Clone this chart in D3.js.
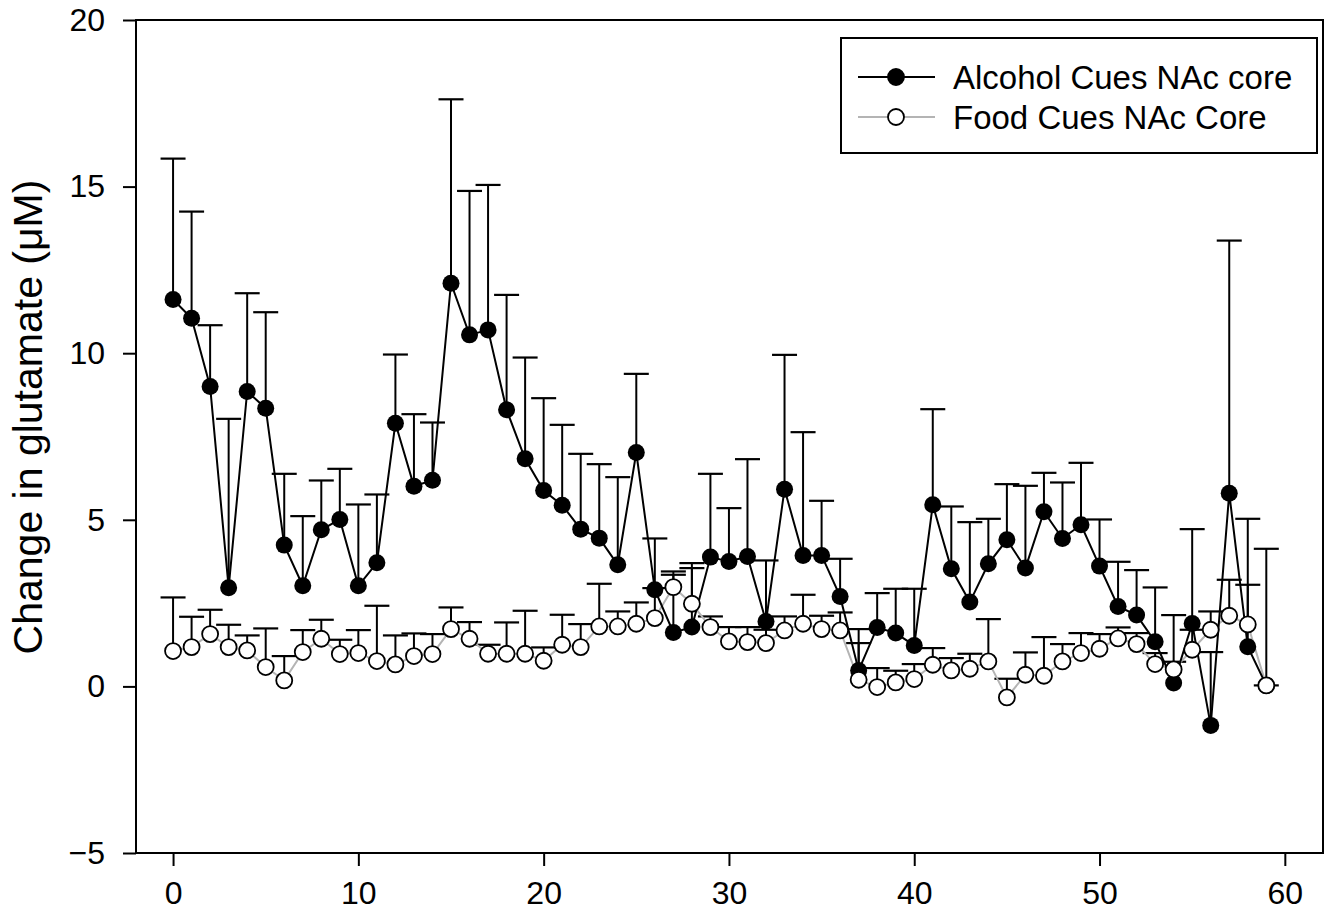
<!DOCTYPE html>
<html>
<head>
<meta charset="utf-8">
<script src="https://cdn.jsdelivr.net/npm/d3@7"></script>
<style>
  body { margin: 0; background: #fff; }
  svg { font-family: "Liberation Sans", Arial, sans-serif; }
</style>
</head>
<body>
<svg id="chart" width="1331" height="920"></svg>
<script>
// sample index (x) and values
var samples = d3.range(0, 60);

var alcoholMean = [11.61, 11.05, 9.00, 2.96, 8.85, 8.35, 4.24, 3.02, 4.70, 5.01,
  3.02, 3.71, 7.90, 6.01, 6.19, 12.10, 10.55, 10.70, 8.30, 6.83,
  5.88, 5.44, 4.72, 4.45, 3.65, 7.02, 2.90, 1.62, 1.78, 3.88,
  3.75, 3.90, 1.95, 5.92, 3.93, 3.93, 2.70, 0.48, 1.77, 1.60,
  1.23, 5.45, 3.53, 2.53, 3.68, 4.40, 3.55, 5.24, 4.44, 4.85,
  3.61, 2.40, 2.14, 1.34, 0.10, 1.89, -1.17, 5.80, 1.19, 0.03];

var alcoholSem = [4.23, 3.20, 1.84, 5.07, 2.95, 2.88, 2.14, 2.09, 1.48, 1.52,
  2.44, 2.05, 2.06, 2.16, 1.73, 5.52, 4.32, 4.35, 3.45, 3.04,
  2.77, 2.41, 2.26, 2.22, 2.63, 2.36, 1.54, 1.83, 1.92, 2.50,
  1.60, 2.92, 1.83, 4.03, 3.70, 1.64, 1.13, 1.24, 1.03, 1.33,
  1.70, 2.87, 1.87, 2.40, 1.35, 1.67, 2.47, 1.17, 1.68, 1.86,
  1.40, 1.34, 1.35, 1.63, 2.04, 2.83, 2.20, 7.58, 3.84, 4.10];

var foodMean = [1.06, 1.18, 1.57, 1.18, 1.08, 0.58, 0.18, 1.03, 1.43, 0.97,
  1.00, 0.76, 0.66, 0.91, 0.97, 1.72, 1.43, 0.98, 0.98, 0.98,
  0.77, 1.25, 1.18, 1.80, 1.80, 1.88, 2.05, 2.98, 2.48, 1.78,
  1.35, 1.33, 1.30, 1.68, 1.88, 1.72, 1.68, 0.20, -0.02, 0.12,
  0.22, 0.65, 0.48, 0.53, 0.75, -0.33, 0.35, 0.32, 0.75, 1.00,
  1.13, 1.44, 1.27, 0.67, 0.51, 1.10, 1.70, 2.12, 1.86, 0.03];

var foodSem = [1.61, 0.91, 0.73, 0.67, 0.45, 1.16, 0.73, 0.66, 0.57, 0.43,
  0.69, 1.66, 0.87, 0.68, 0.60, 0.65, 0.50, 0.27, 0.94, 1.29,
  0.40, 0.90, 0.69, 1.28, 0.45, 0.64, 0.90, 0.37, 1.07, 0.32,
  0.43, 0.45, 0.40, 0.42, 0.87, 0.40, 0.54, 1.10, 0.57, 0.35,
  0.45, 0.50, 0.37, 0.45, 1.27, 0.56, 0.67, 1.16, 0.52, 0.60,
  0.44, 0.33, 0.33, 0.33, 0.23, 0.60, 0.55, 1.08, 1.19, 0.00];

var xTicks = [0, 10, 20, 30, 40, 50, 60];
var yTicks = [-5, 0, 5, 10, 15, 20];
var seriesNames = ['Alcohol Cues NAc core', 'Food Cues NAc Core'];
var yTitle = 'Change in glutamate (\u03bcM)';

var margin = {left: 136, top: 20, right: 1323, bottom: 853};

var svg = d3.select('#chart');

var x = d3.scaleLinear().domain([-2, 62.06]).range([margin.left, margin.right]);
var y = d3.scaleLinear().domain([-5, 20]).range([margin.bottom, margin.top]);

function toPoints(mean, sem) {
  return samples.map(function(s, i) {
    return {x: s, y: mean[i], err: sem[i]};
  });
}

var alcohol = toPoints(alcoholMean, alcoholSem),
    food = toPoints(foodMean, foodSem);

var line = d3.line()
  .x(function(d) { return x(d.x); })
  .y(function(d) { return y(d.y); });

// axes
svg.append('g')
  .attr('transform', 'translate(0,' + margin.bottom + ')')
  .call(d3.axisBottom(x).tickValues(xTicks).tickSize(13).tickPadding(15).tickSizeOuter(0))
  .call(styleAxis);

svg.append('g')
  .attr('transform', 'translate(' + margin.left + ',0)')
  .call(d3.axisLeft(y).tickValues(yTicks).tickSize(13).tickPadding(18).tickSizeOuter(0))
  .call(styleAxis);

function styleAxis(g) {
  g.select('.domain').remove();
  g.selectAll('.tick line').attr('stroke', '#000').attr('stroke-width', 2);
  g.selectAll('.tick text').attr('fill', '#000').style('font-size', '32px');
}

// frame
svg.append('rect')
  .attr('x', margin.left)
  .attr('y', margin.top)
  .attr('width', margin.right - margin.left)
  .attr('height', margin.bottom - margin.top)
  .attr('fill', 'none')
  .attr('stroke', '#000')
  .attr('stroke-width', 2);

svg.append('text')
  .attr('transform', 'translate(42,417) rotate(-90)')
  .attr('text-anchor', 'middle')
  .style('font-size', '41px')
  .text(yTitle);

// error bars (upper only)
function drawErrors(data, cls) {
  var g = svg.append('g').attr('class', cls);
  g.selectAll('line.stem')
    .data(data)
    .enter()
    .append('line')
    .attr('class', 'stem')
    .attr('x1', function(d) { return x(d.x); })
    .attr('x2', function(d) { return x(d.x); })
    .attr('y1', function(d) { return y(d.y); })
    .attr('y2', function(d) { return y(d.y + d.err); })
    .attr('stroke', '#000')
    .attr('stroke-width', 2);
  g.selectAll('line.cap')
    .data(data)
    .enter()
    .append('line')
    .attr('class', 'cap')
    .attr('x1', function(d) { return x(d.x) - 12.5; })
    .attr('x2', function(d) { return x(d.x) + 12.5; })
    .attr('y1', function(d) { return y(d.y + d.err); })
    .attr('y2', function(d) { return y(d.y + d.err); })
    .attr('stroke', '#000')
    .attr('stroke-width', 2.2);
}

drawErrors(food, 'food-err');
drawErrors(alcohol, 'alcohol-err');

svg.append('path')
  .datum(food)
  .attr('d', line)
  .attr('fill', 'none')
  .attr('stroke', '#b4b4b4')
  .attr('stroke-width', 2);

svg.append('path')
  .datum(alcohol)
  .attr('d', line)
  .attr('fill', 'none')
  .attr('stroke', '#000')
  .attr('stroke-width', 2);

svg.append('g')
  .selectAll('circle')
  .data(alcohol)
  .enter()
  .append('circle')
  .attr('cx', function(d) { return x(d.x); })
  .attr('cy', function(d) { return y(d.y); })
  .attr('r', 8.5)
  .attr('fill', '#000');

svg.append('g')
  .selectAll('circle')
  .data(food)
  .enter()
  .append('circle')
  .attr('cx', function(d) { return x(d.x); })
  .attr('cy', function(d) { return y(d.y); })
  .attr('r', 8)
  .attr('fill', '#fff')
  .attr('stroke', '#000')
  .attr('stroke-width', 1.8);

// legend
var legend = svg.append('g');
legend.append('rect')
  .attr('x', 841)
  .attr('y', 38)
  .attr('width', 476)
  .attr('height', 115)
  .attr('fill', '#fff')
  .attr('stroke', '#000')
  .attr('stroke-width', 2);

var legendRows = [
  {name: seriesNames[0], stroke: '#000', fill: '#000', y: 77},
  {name: seriesNames[1], stroke: '#b4b4b4', fill: '#fff', y: 117}
];

var row = legend.selectAll('g.row')
  .data(legendRows)
  .enter()
  .append('g')
  .attr('class', 'row');

row.append('line')
  .attr('x1', 858).attr('x2', 935)
  .attr('y1', function(d) { return d.y; })
  .attr('y2', function(d) { return d.y; })
  .attr('stroke', function(d) { return d.stroke; })
  .attr('stroke-width', 2);

row.append('circle')
  .attr('cx', 896)
  .attr('cy', function(d) { return d.y; })
  .attr('r', 8)
  .attr('fill', function(d) { return d.fill; })
  .attr('stroke', '#000')
  .attr('stroke-width', 1.8);

row.append('text')
  .attr('x', 953)
  .attr('y', function(d) { return d.y; })
  .attr('dy', '0.35em')
  .style('font-size', '33px')
  .text(function(d) { return d.name; });
</script>
</body>
</html>
